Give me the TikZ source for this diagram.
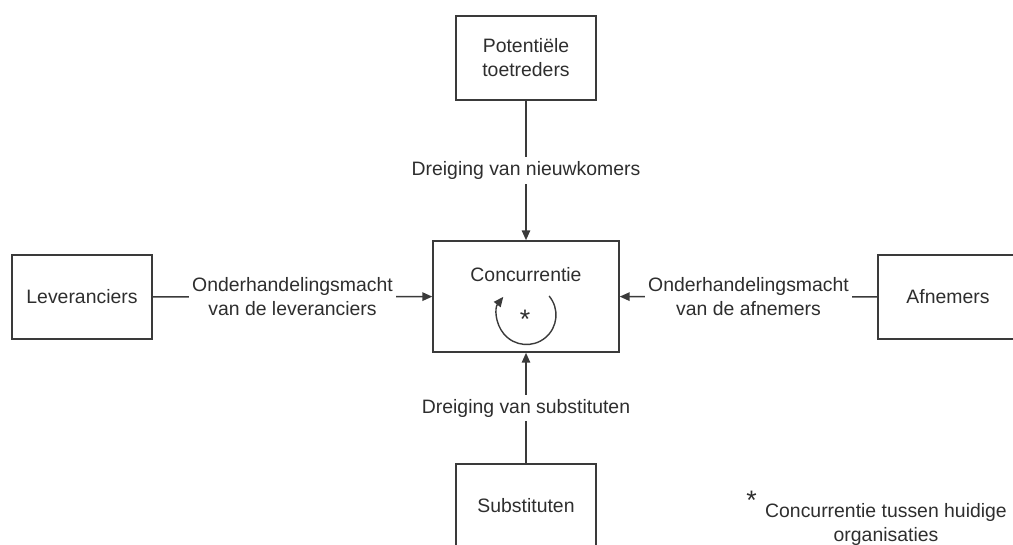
\documentclass[tikz,border=0pt]{standalone}
\usepackage{fontspec}
\setmainfont{Liberation Sans}
\usetikzlibrary{arrows.meta,positioning}
\definecolor{lijnGrijs}{HTML}{3A3A3A}
\definecolor{tekstGrijs}{HTML}{2E2E2E}

\begin{document}
\begin{tikzpicture}[
            x=0.025cm, y=-0.025cm,
            every node/.style={font=\fontsize{13.8}{17}\selectfont, text=tekstGrijs},
            kracht/.style={draw=lijnGrijs, line width=1pt, minimum width=3.5cm, minimum height=2.1cm, align=center},
            kern/.style={draw=lijnGrijs, line width=1pt, minimum width=4.65cm, minimum height=2.78cm},
            pijl/.style={-{Triangle[length=7pt,width=6pt]}, draw=lijnGrijs, line width=1pt},
            etiket/.style={fill=white, inner xsep=2pt, inner ysep=3pt, align=center},
            sterretje/.style={font=\fontsize{19}{19}\selectfont, inner sep=0pt}
        ]
\clip (0,0) rectangle (1013,545);
\useasboundingbox (0,0) rectangle (1013,545);

\node[kern] (conc) at (526,296.5) {};
\node[above=0.55cm of conc.center, anchor=center] (conctxt) {Concurrentie};
\node[sterretje] (ster) at (525,319) {*};
\node[kracht] (toetr) at (526,58) {Potentiële\\toetreders};
\node[kracht] (lev) at (82,297) {Leveranciers};
\node[kracht] (afn) at (948,297) {Afnemers};
\node[kracht] (subst) at (526,506) {Substituten};

\draw[pijl] (toetr) -- node[etiket] {Dreiging van nieuwkomers} (conc);
\draw[pijl] (subst) -- node[etiket] {Dreiging van substituten} (conc);
\draw[pijl] (lev) -- node[etiket] {Onderhandelingsmacht\\van de leveranciers} (conc);
\draw[pijl] (afn) -- node[etiket] {Onderhandelingsmacht\\van de afnemers} (conc);

% kringloop rond de ster
\draw[pijl] (526.5,315) ++(-40:29.5) arc[start angle=-40, end angle=218, radius=29.5];

% voetnoot
\node[sterretje, anchor=west] (nootster) at (746,500) {*};
\node[anchor=north, align=center, inner sep=0pt] (noot) at (886,503) {Concurrentie tussen huidige\\organisaties};
\end{tikzpicture}
\end{document}
